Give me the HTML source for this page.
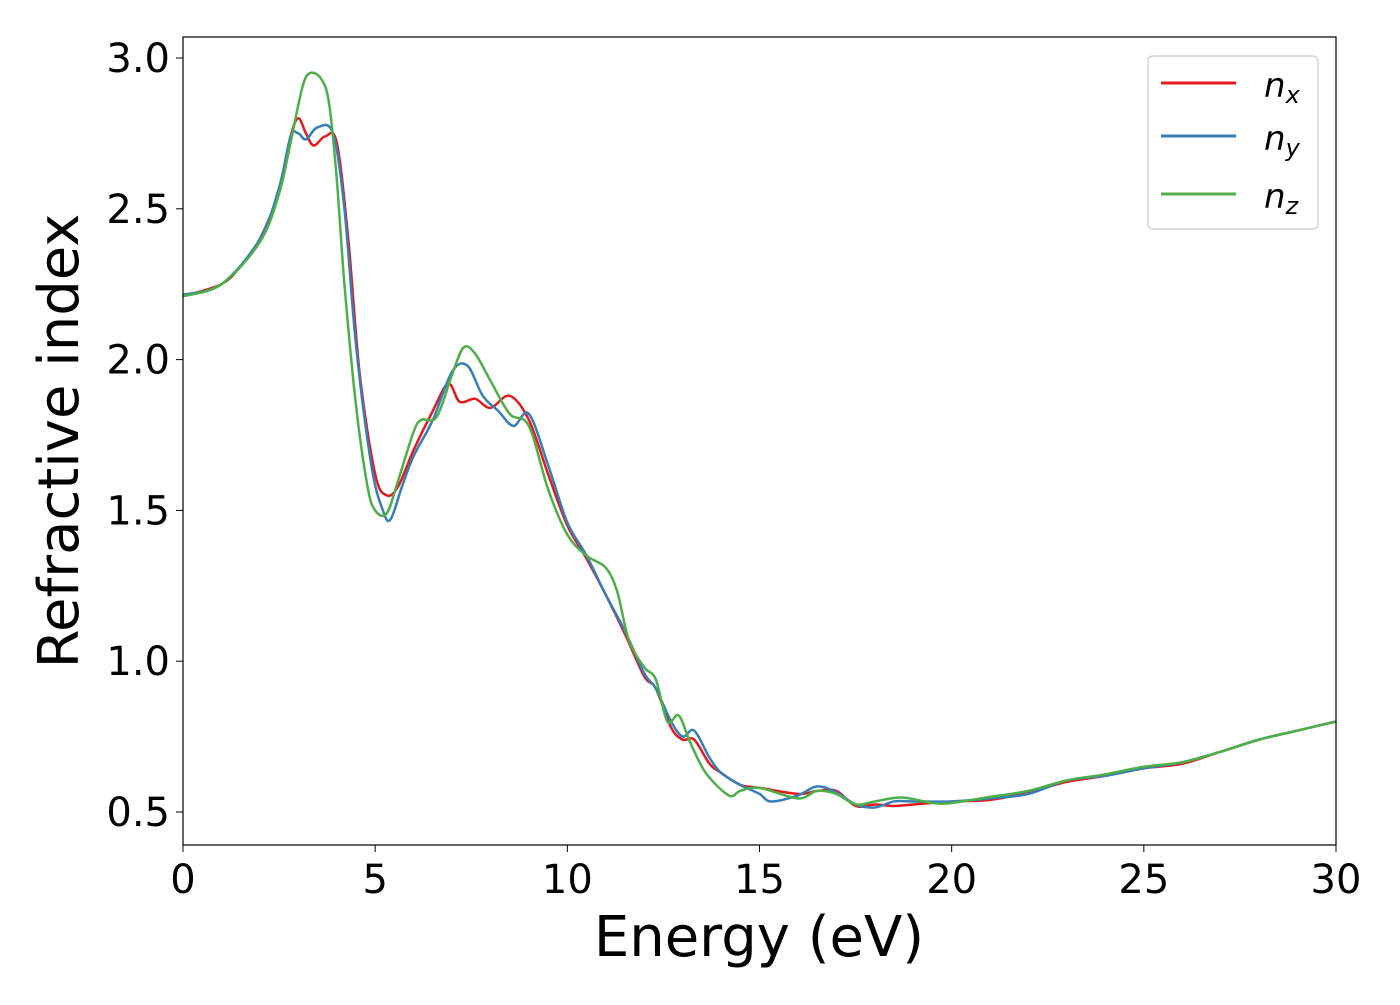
<!DOCTYPE html>
<html><head><meta charset="utf-8"><style>
body{margin:0;background:#fff;}
svg text{font-family:"DejaVu Sans","Liberation Sans",sans-serif;}
</style></head><body>
<svg id="chart" width="1400" height="1000" xmlns="http://www.w3.org/2000/svg">
<g id="lines"></g>
<rect x="183" y="37" width="1153" height="808" fill="none" stroke="#000" stroke-width="1.2"/>
<g id="xt"></g>
<g id="yt"></g>
<text x="759" y="956" font-size="56" text-anchor="middle">Energy (eV)</text>
<text transform="translate(78,441) rotate(-90)" font-size="56" text-anchor="middle">Refractive index</text>
<g>
<rect x="1148" y="56" width="170" height="173" rx="5" fill="#fff" stroke="#ccc" stroke-width="1.2"/>
<g><line x1="1161" y1="83" x2="1236" y2="83" stroke="#e41a1c" stroke-width="3"/><text x="1264" y="97" font-size="34" font-style="italic">n<tspan font-size="24" dy="6">x</tspan></text></g>
<g><line x1="1161" y1="136" x2="1236" y2="136" stroke="#377eb8" stroke-width="3"/><text x="1264" y="150" font-size="34" font-style="italic">n<tspan font-size="24" dy="6">y</tspan></text></g>
<g><line x1="1161" y1="194" x2="1236" y2="194" stroke="#4daf4a" stroke-width="3"/><text x="1264" y="208" font-size="34" font-style="italic">n<tspan font-size="24" dy="6">z</tspan></text></g>
</g>
</svg>
<script>
const xTicks=[0,5,10,15,20,25,30];
const yTicks=[0.5,1.0,1.5,2.0,2.5,3.0];
const yTickLabels=["0.5","1.0","1.5","2.0","2.5","3.0"];
const nxE=[0,1,1.5,2,2.5,2.8,3.0,3.2,3.4,3.7,4.0,4.3,4.6,5.0,5.3,5.6,6.0,6.5,6.9,7.2,7.6,8.0,8.5,9.0,9.5,10,10.5,11,11.5,12,12.3,12.7,13,13.3,13.7,14,14.5,15,16,16.5,17,17.5,18,18.5,19,20,21,22,23,24,25,26,27,28,29,30];
const nxV=[2.21,2.25,2.31,2.40,2.56,2.74,2.80,2.75,2.71,2.74,2.72,2.40,1.95,1.62,1.55,1.58,1.70,1.83,1.92,1.86,1.87,1.84,1.88,1.80,1.62,1.45,1.34,1.22,1.09,0.95,0.91,0.78,0.74,0.74,0.66,0.63,0.59,0.58,0.56,0.57,0.57,0.52,0.525,0.52,0.525,0.535,0.54,0.565,0.60,0.62,0.645,0.66,0.70,0.74,0.77,0.80];
const nyE=[0,1,2,2.5,2.8,3.0,3.2,3.5,3.9,4.2,4.5,4.9,5.2,5.4,5.7,6,6.5,7,7.4,7.8,8.2,8.6,9,9.5,10,10.5,11,11.5,12,12.3,12.7,13,13.3,13.7,14,14.5,15,15.3,16,16.5,17,17.5,18,18.5,19,20,21,22,23,24,25,26,27,28,29,30];
const nyV=[2.215,2.25,2.40,2.57,2.74,2.75,2.73,2.77,2.75,2.50,2.05,1.65,1.50,1.47,1.58,1.68,1.80,1.96,1.98,1.88,1.83,1.78,1.82,1.65,1.46,1.35,1.22,1.10,0.96,0.91,0.80,0.75,0.77,0.68,0.63,0.59,0.56,0.535,0.555,0.585,0.565,0.525,0.515,0.535,0.535,0.535,0.545,0.56,0.605,0.62,0.645,0.665,0.70,0.74,0.77,0.80];
const nzE=[0,1,2,2.5,2.8,3.1,3.3,3.6,3.8,4.0,4.2,4.5,4.8,5.0,5.3,5.6,6,6.2,6.6,7,7.3,7.6,8,8.5,9,9.5,10,10.5,11,11.3,11.6,12,12.3,12.6,12.9,13.2,13.6,14.2,14.5,15,16,16.5,17,17.5,18,18.7,19.5,20,21,22,23,24,25,26,27,28,29,30];
const nzV=[2.21,2.25,2.39,2.55,2.72,2.90,2.95,2.93,2.85,2.60,2.25,1.85,1.58,1.50,1.49,1.60,1.76,1.80,1.81,1.95,2.04,2.02,1.93,1.82,1.78,1.57,1.42,1.35,1.31,1.23,1.07,0.98,0.94,0.80,0.82,0.73,0.63,0.555,0.57,0.58,0.545,0.57,0.56,0.525,0.535,0.548,0.53,0.53,0.55,0.57,0.605,0.625,0.65,0.665,0.70,0.74,0.77,0.80];
const X=e=>183+e*(1153/30);
const Y=v=>812-(v-0.5)*301.6;
const NS="http://www.w3.org/2000/svg";
function path(E,V,color,name){
  const p=E.map((e,i)=>[X(e),Y(V[i])]);
  let d="M"+p[0][0]+","+p[0][1];
  for(let i=0;i<p.length-1;i++){
    const p0=p[Math.max(0,i-1)],p1=p[i],p2=p[i+1],p3=p[Math.min(p.length-1,i+2)];
    const c1x=p1[0]+(p2[0]-p0[0])/6,c1y=p1[1]+(p2[1]-p0[1])/6;
    const c2x=p2[0]-(p3[0]-p1[0])/6,c2y=p2[1]-(p3[1]-p1[1])/6;
    d+=" C"+c1x+","+c1y+" "+c2x+","+c2y+" "+p2[0]+","+p2[1];
  }
  const el=document.createElementNS(NS,"path");
  
  
  el.setAttribute("d",d);el.setAttribute("fill","none");el.setAttribute("stroke",color);el.setAttribute("stroke-width","2.5");
  document.getElementById("lines").appendChild(el);
}
path(nxE,nxV,"#e41a1c","series-nx");
path(nyE,nyV,"#377eb8","series-ny");
path(nzE,nzV,"#4daf4a","series-nz");
const xt=document.getElementById("xt");
xTicks.forEach(t=>{
  const l=document.createElementNS(NS,"line");
  
  
  l.setAttribute("x1",X(t));l.setAttribute("x2",X(t));l.setAttribute("y1",845);l.setAttribute("y2",852);l.setAttribute("stroke","#000");
  xt.appendChild(l);
  const tx=document.createElementNS(NS,"text");
  
  
  tx.setAttribute("x",X(t));tx.setAttribute("y",893);tx.setAttribute("font-size","40");tx.setAttribute("text-anchor","middle");
  tx.textContent=t;xt.appendChild(tx);
});
const yt=document.getElementById("yt");
yTicks.forEach((t,i)=>{
  const l=document.createElementNS(NS,"line");
  
  
  l.setAttribute("x1",176);l.setAttribute("x2",183);l.setAttribute("y1",Y(t));l.setAttribute("y2",Y(t));l.setAttribute("stroke","#000");
  yt.appendChild(l);
  const tx=document.createElementNS(NS,"text");
  
  
  tx.setAttribute("x",170);tx.setAttribute("y",Y(t)+14);tx.setAttribute("font-size","40");tx.setAttribute("text-anchor","end");
  tx.textContent=yTickLabels[i];yt.appendChild(tx);
});
</script>
</body></html>
